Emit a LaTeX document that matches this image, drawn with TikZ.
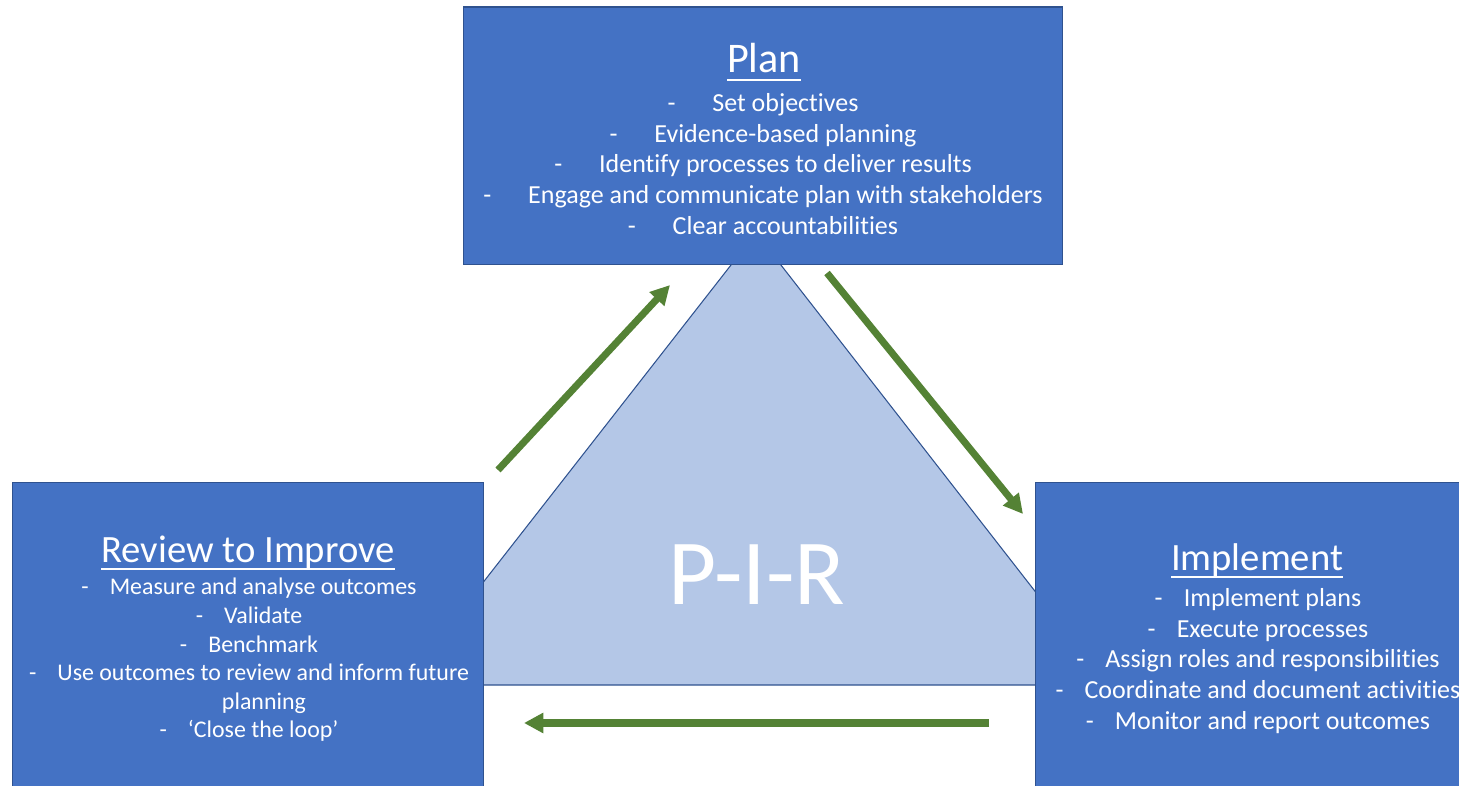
\documentclass[tikz,border=0pt]{standalone}
\usepackage{fontspec}
\setmainfont{Carlito}[Ligatures=NoCommon]
\usetikzlibrary{arrows.meta}
\definecolor{boxblue}{HTML}{4472C4}
\definecolor{edgeblue}{HTML}{2F528F}
\definecolor{triblue}{HTML}{B4C7E7}
\definecolor{arrgreen}{HTML}{548235}
\newcommand{\undl}[1]{\setbox0\hbox{#1}\rlap{\rule[-4.5pt]{\wd0}{1.1pt}}\box0}

\begin{document}
\begin{tikzpicture}[x=0.02cm,y=-0.02cm,
		box/.style={draw=edgeblue,line width=0.6pt,fill=boxblue,inner sep=0pt},
		ttl/.style={text=white,font=\fontsize{22pt}{26pt}\selectfont,anchor=base,inner sep=0pt},
		body/.style={text=white,font=\fontsize{14.8pt}{17.6pt}\selectfont,align=center,inner sep=0pt},
		flow/.style={arrgreen,line width=4pt,-{Triangle[length=11pt,width=11pt]}}]
	\useasboundingbox (0,0) rectangle (1459,786);
	\clip (0,0) rectangle (1459,786);
	% triangle behind the boxes
	\filldraw [fill=triblue,draw=edgeblue,line width=0.6pt] (403,685) -- (756,233) -- (1108,685) -- cycle;
	\node [text=white,font=\fontsize{53pt}{60pt}\selectfont,inner sep=0pt] (pir) at (757,575) {P-I-R};
	% the three boxes
	\node [box,minimum width=12cm,minimum height=5.16cm] (plan) at (763,136) {};
	\node [box,minimum width=9.44cm,minimum height=6.36cm] (review) at (248,641) {};
	\node [box,minimum width=8.9cm,minimum height=6.36cm] (implement) at (1257.5,641) {};
	\node [ttl,font=\fontsize{24pt}{28pt}\selectfont] (planTitle) at (764,73) {\undl{Plan}};
	\node [body] (planBody) at (763,164) {-\hspace{21pt}Set objectives\\
		-\hspace{21pt}Evidence-based planning\\
		-\hspace{21pt}Identify processes to deliver results\\
		-\hspace{21pt}Engage and communicate plan with stakeholders\\
		-\hspace{21pt}Clear accountabilities};
	\node [ttl] (reviewTitle) at (248,562) {\undl{Review to Improve}};
	\node [body,font=\fontsize{13.6pt}{16.3pt}\selectfont] (reviewBody) at (249,660) {-\hspace{12pt}Measure and analyse outcomes\\
		-\hspace{12pt}Validate\\
		-\hspace{12pt}Benchmark\\
		-\hspace{12pt}Use outcomes to review and inform future\\
		\hspace*{17pt}planning\\
		-\hspace{12pt}‘Close the loop’};
	\node [ttl] (implementTitle) at (1257,570) {\undl{Implement}};
	\node [body] (implementBody) at (1258,661) {-\hspace{12pt}Implement plans\\
		-\hspace{12pt}Execute processes\\
		-\hspace{12pt}Assign roles and responsibilities\\
		-\hspace{12pt}Coordinate and document activities\\
		-\hspace{12pt}Monitor and report outcomes};
	% cycle arrows
	\coordinate (revOut) at (498,470);
	\coordinate (planIn) at (670,285);
	\coordinate (planOut) at (827,273);
	\coordinate (impIn) at (1023,514);
	\coordinate (impOut) at (989,723);
	\coordinate (revIn) at (524,723);
	\draw [flow] (revOut) -- (planIn);
	\draw [flow] (planOut) -- (impIn);
	\draw [flow] (impOut) -- (revIn);
\end{tikzpicture}
\end{document}
